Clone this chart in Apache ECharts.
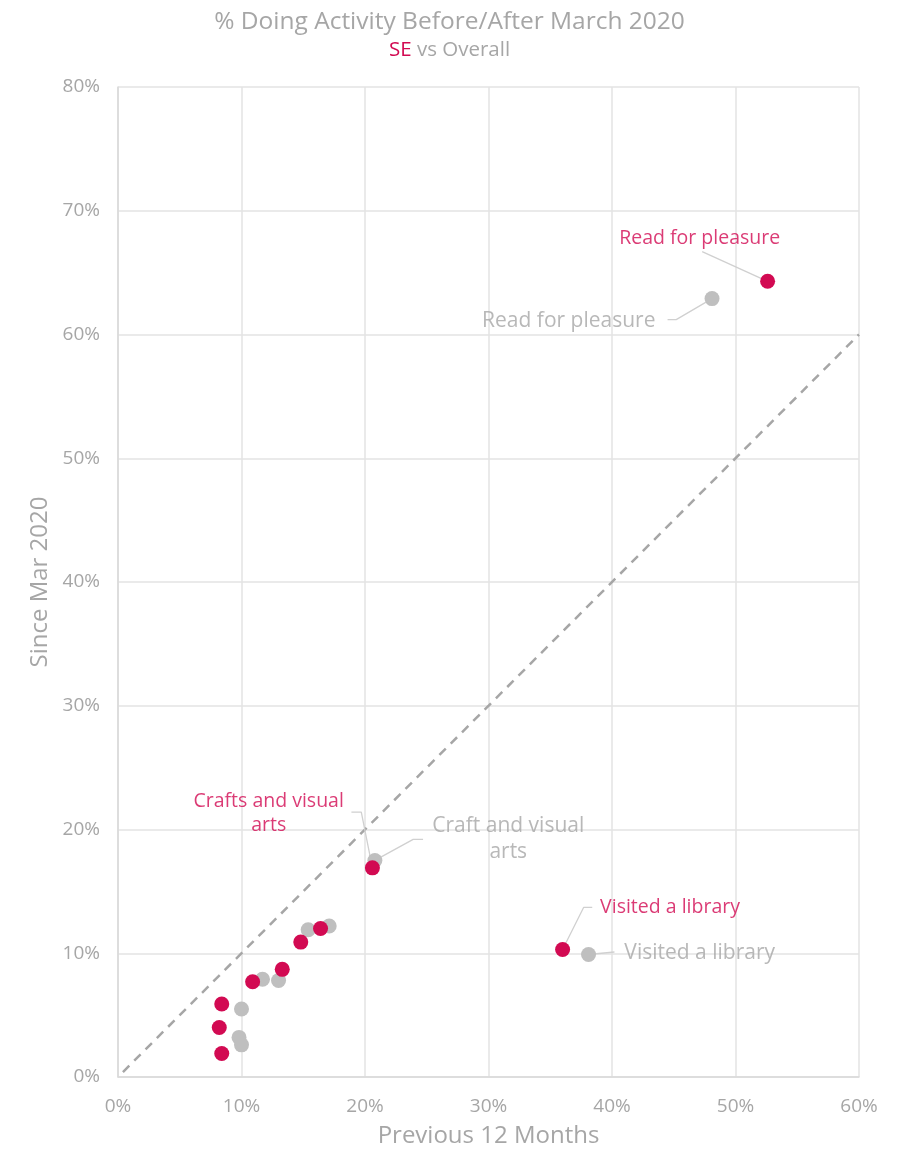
<!DOCTYPE html>
<html lang="en">
<head>
  <meta charset="UTF-8">
  <title>% Doing Activity Before/After March 2020</title>
  <script src="https://cdn.jsdelivr.net/npm/echarts@6/dist/echarts.min.js"></script>
  <style>
    body { margin: 0; padding: 0; background: #fff; }
    #main { width: 899px; height: 1150px; }
  </style>
</head>
<body>
  <div id="main"></div>
  <script>
    // data: [previous 12 months %, since Mar 2020 %]
    var overallPoints = [
      [48.1, 62.9], [20.8, 17.5], [38.1, 9.9], [17.1, 12.2], [15.4, 11.9],
      [11.7, 7.9], [13.0, 7.8], [10.0, 5.5], [9.8, 3.2], [10.0, 2.6]
    ];
    var sePoints = [
      [52.6, 64.3], [20.6, 16.9], [36.0, 10.3], [16.4, 12.0], [14.8, 10.9],
      [13.3, 8.7], [10.9, 7.7], [8.4, 5.9], [8.2, 4.0], [8.4, 1.9]
    ];
    var diagonal = [[0.4, 0.4], [60, 60]];

    // annotations: label text, label position and leader line (in data units)
    var seLabels = [
      { text: 'Read for pleasure', at: [47.1, 67.8], line: [[47.3, 66.7], [52.6, 64.3]] },
      { text: 'Crafts and visual\narts', at: [12.2, 21.3], line: [[18.9, 21.4], [19.7, 21.4], [20.6, 16.9]] },
      { text: 'Visited a library', at: [44.7, 13.7], line: [[38.4, 13.7], [37.7, 13.7], [36.0, 10.3]] }
    ];
    var overallLabels = [
      { text: 'Read for pleasure', at: [36.5, 61.1], line: [[44.5, 61.2], [45.2, 61.2], [48.1, 62.9]] },
      { text: 'Craft and visual\narts', at: [31.6, 19.2], line: [[24.7, 19.2], [23.9, 19.2], [20.8, 17.5]] },
      { text: 'Visited a library', at: [47.1, 10.0], line: [[40.2, 10.1], [38.1, 9.9]] }
    ];

    var red = '#D20A52';
    var grey = '#BFBFBF';
    var textGrey = '#A6A6A6';
    var font = '"Open Sans", sans-serif';

    var series = [];

    // y = x reference line
    series.push({
      type: 'line',
      data: diagonal,
      symbol: 'none',
      silent: true,
      lineStyle: { color: '#A6A6A6', width: 2.5, type: [9, 7] },
      z: 1
    });

    function addLeaders(list, color, size, lh) {
      list.forEach(function (a) {
        series.push({
          type: 'line',
          data: a.line,
          symbol: 'none',
          silent: true,
          lineStyle: { color: '#D0D0D0', width: 1.3 },
          z: 2
        });
        series.push({
          type: 'scatter',
          data: [a.at],
          symbolSize: 0,
          silent: true,
          label: {
            show: true,
            position: 'inside',
            formatter: a.text,
            color: color,
            fontFamily: font,
            fontSize: size,
            lineHeight: lh,
            align: 'center'
          },
          z: 5
        });
      });
    }
    addLeaders(overallLabels, textGrey, 21, 26);
    addLeaders(seLabels, red, 19.5, 24);

    series.push({
      name: 'Overall',
      type: 'scatter',
      data: overallPoints,
      symbolSize: 15,
      itemStyle: { color: grey, opacity: 1 },
      z: 3
    });
    series.push({
      name: 'SE',
      type: 'scatter',
      data: sePoints,
      symbolSize: 15,
      itemStyle: { color: red, opacity: 1 },
      z: 4
    });

    var option = {
      animation: false,
      title: {
        text: '% Doing Activity Before/After March 2020',
        subtext: '{r|SE} vs Overall',
        left: 'center',
        top: 5,
        itemGap: 5,
        textStyle: { color: textGrey, fontFamily: font, fontSize: 24.5, fontWeight: 'normal' },
        subtextStyle: {
          color: textGrey, fontFamily: font, fontSize: 20.5,
          rich: { r: { color: red, fontFamily: font, fontSize: 20.5 } }
        }
      },
      grid: { left: 118, right: 40, top: 87, bottom: 73, containLabel: false, outerBoundsMode: 'none' },
      xAxis: {
        type: 'value',
        min: 0, max: 60, interval: 10,
        name: 'Previous 12 Months',
        nameLocation: 'middle',
        nameGap: 47,
        nameTextStyle: { color: textGrey, fontFamily: font, fontSize: 24 },
        axisLine: { show: true, lineStyle: { color: '#D9D9D9', width: 1.5 } },
        axisTick: { show: false },
        axisLabel: { color: textGrey, fontFamily: font, fontSize: 19, margin: 20, formatter: '{value}%' },
        splitLine: { show: true, lineStyle: { color: '#E3E3E3', width: 1.5 } }
      },
      yAxis: {
        type: 'value',
        min: 0, max: 80, interval: 10,
        name: 'Since Mar 2020',
        nameLocation: 'middle',
        nameGap: 62,
        nameTextStyle: { color: textGrey, fontFamily: font, fontSize: 24 },
        axisLine: { show: true, lineStyle: { color: '#D9D9D9', width: 1.5 } },
        axisTick: { show: false },
        axisLabel: { color: textGrey, fontFamily: font, fontSize: 19, margin: 18, formatter: '{value}%' },
        splitLine: { show: true, lineStyle: { color: '#E3E3E3', width: 1.5 } }
      },
      series: series
    };

    var chart = echarts.init(document.getElementById('main'));
    chart.setOption(option);
  </script>
</body>
</html>
